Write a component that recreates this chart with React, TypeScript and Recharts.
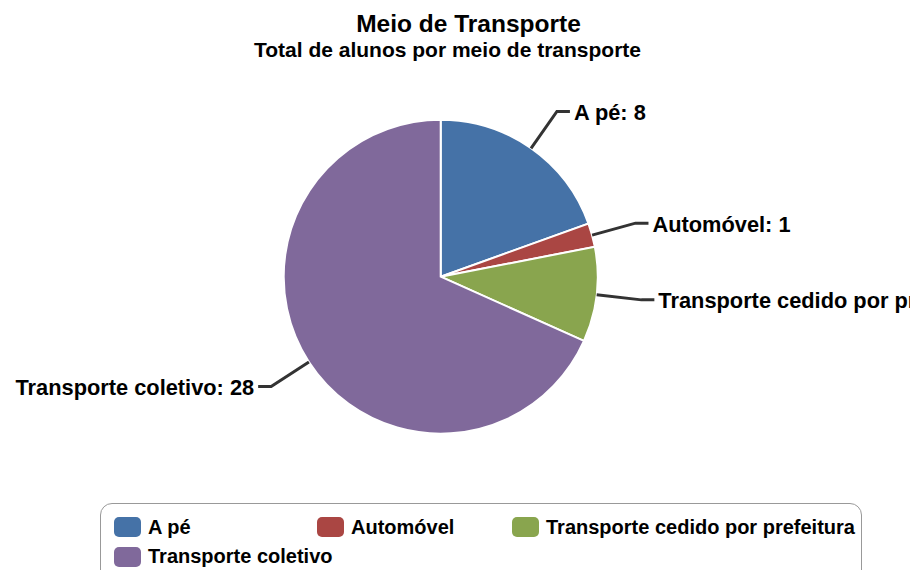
import { Cell, Legend, Pie, PieChart } from 'recharts';

const categories = ['A pé', 'Automóvel', 'Transporte cedido por prefeitura', 'Transporte coletivo'];
const values = [8, 1, 4, 28];
const COLORS = ['#4572A7', '#AA4643', '#89A54E', '#80699B'];

const data = categories.map((name, i) => ({ name, value: values[i] }));

const FONT = '"Liberation Sans", Arial, Helvetica, sans-serif';
const RAD = Math.PI / 180;

function renderLabel(props: any) {
  const { cx, cy, midAngle, outerRadius, value } = props;
  const name = props.name ?? props.payload?.name;
  const cos = Math.cos(-midAngle * RAD);
  const sin = Math.sin(-midAngle * RAD);
  const sx = cx + outerRadius * cos;
  const sy = cy + outerRadius * sin;
  const bx = cx + (outerRadius + 45) * cos;
  const by = cy + (outerRadius + 45) * sin;
  const dir = cos >= 0 ? 1 : -1;
  return (
    <g>
      <path d={`M${sx},${sy}L${bx},${by}L${bx + dir * 13},${by}`} stroke="#333" strokeWidth={3} fill="none" />
      <text
        x={bx + dir * 17}
        y={by + 1}
        textAnchor={dir > 0 ? 'start' : 'end'}
        dominantBaseline="central"
        fontFamily={FONT}
        fontWeight="bold"
        fontSize={21.8}
        fill="#000"
      >
        {`${name}: ${value}`}
      </text>
    </g>
  );
}

function renderLegend(props: any) {
  const items = props.payload ?? [];
  return (
    <div
      style={{
        boxSizing: 'border-box',
        width: 762,
        height: 90,
        border: '1px solid #999',
        borderRadius: 12,
        padding: '12px 0 0 13px',
        display: 'grid',
        gridTemplateColumns: '203px 195px auto',
        gridAutoRows: 29.5,
        fontFamily: FONT,
        fontWeight: 'bold',
        fontSize: 20,
        color: '#000',
      }}
    >
      {items.map((it: any, i: number) => (
        <div key={i} style={{ display: 'flex', alignItems: 'center', height: 22, whiteSpace: 'nowrap' }}>
          <span
            style={{
              display: 'inline-block',
              flexShrink: 0,
              width: 27,
              height: 20,
              borderRadius: 5,
              background: it.color ?? COLORS[i],
              marginRight: 7,
            }}
          />
          {it.value}
        </div>
      ))}
    </div>
  );
}

export default function App() {
  return (
    <div style={{ position: 'absolute', left: 0, top: 0, width: 910, height: 570, overflow: 'hidden', background: '#fff' }}>
      <svg width={910} height={70} style={{ position: 'absolute', left: 0, top: 0 }}>
        <text x={468.5} y={32} textAnchor="middle" fontFamily={FONT} fontWeight="bold" fontSize={24.5} fill="#000">
          Meio de Transporte
        </text>
        <text x={447.5} y={56.5} textAnchor="middle" fontFamily={FONT} fontWeight="bold" fontSize={21} fill="#000">
          Total de alunos por meio de transporte
        </text>
      </svg>
      <div style={{ position: 'absolute', left: 0, top: 0 }}>
        <PieChart width={910} height={570} margin={{ top: 0, right: 0, bottom: 0, left: 0 }}>
          <Pie
            data={data}
            dataKey="value"
            nameKey="name"
            cx={440.7}
            cy={276.7}
            outerRadius={157}
            startAngle={90}
            endAngle={-270}
            stroke="#fff"
            strokeWidth={2}
            label={renderLabel}
            labelLine={false}
            isAnimationActive={false}
          >
            {data.map((_, i) => (
              <Cell key={i} fill={COLORS[i]} />
            ))}
          </Pie>
          <Legend
            content={renderLegend}
            wrapperStyle={{ position: 'absolute', left: 100, top: 503, width: 762, bottom: 'auto' }}
          />
        </PieChart>
      </div>
    </div>
  );
}
